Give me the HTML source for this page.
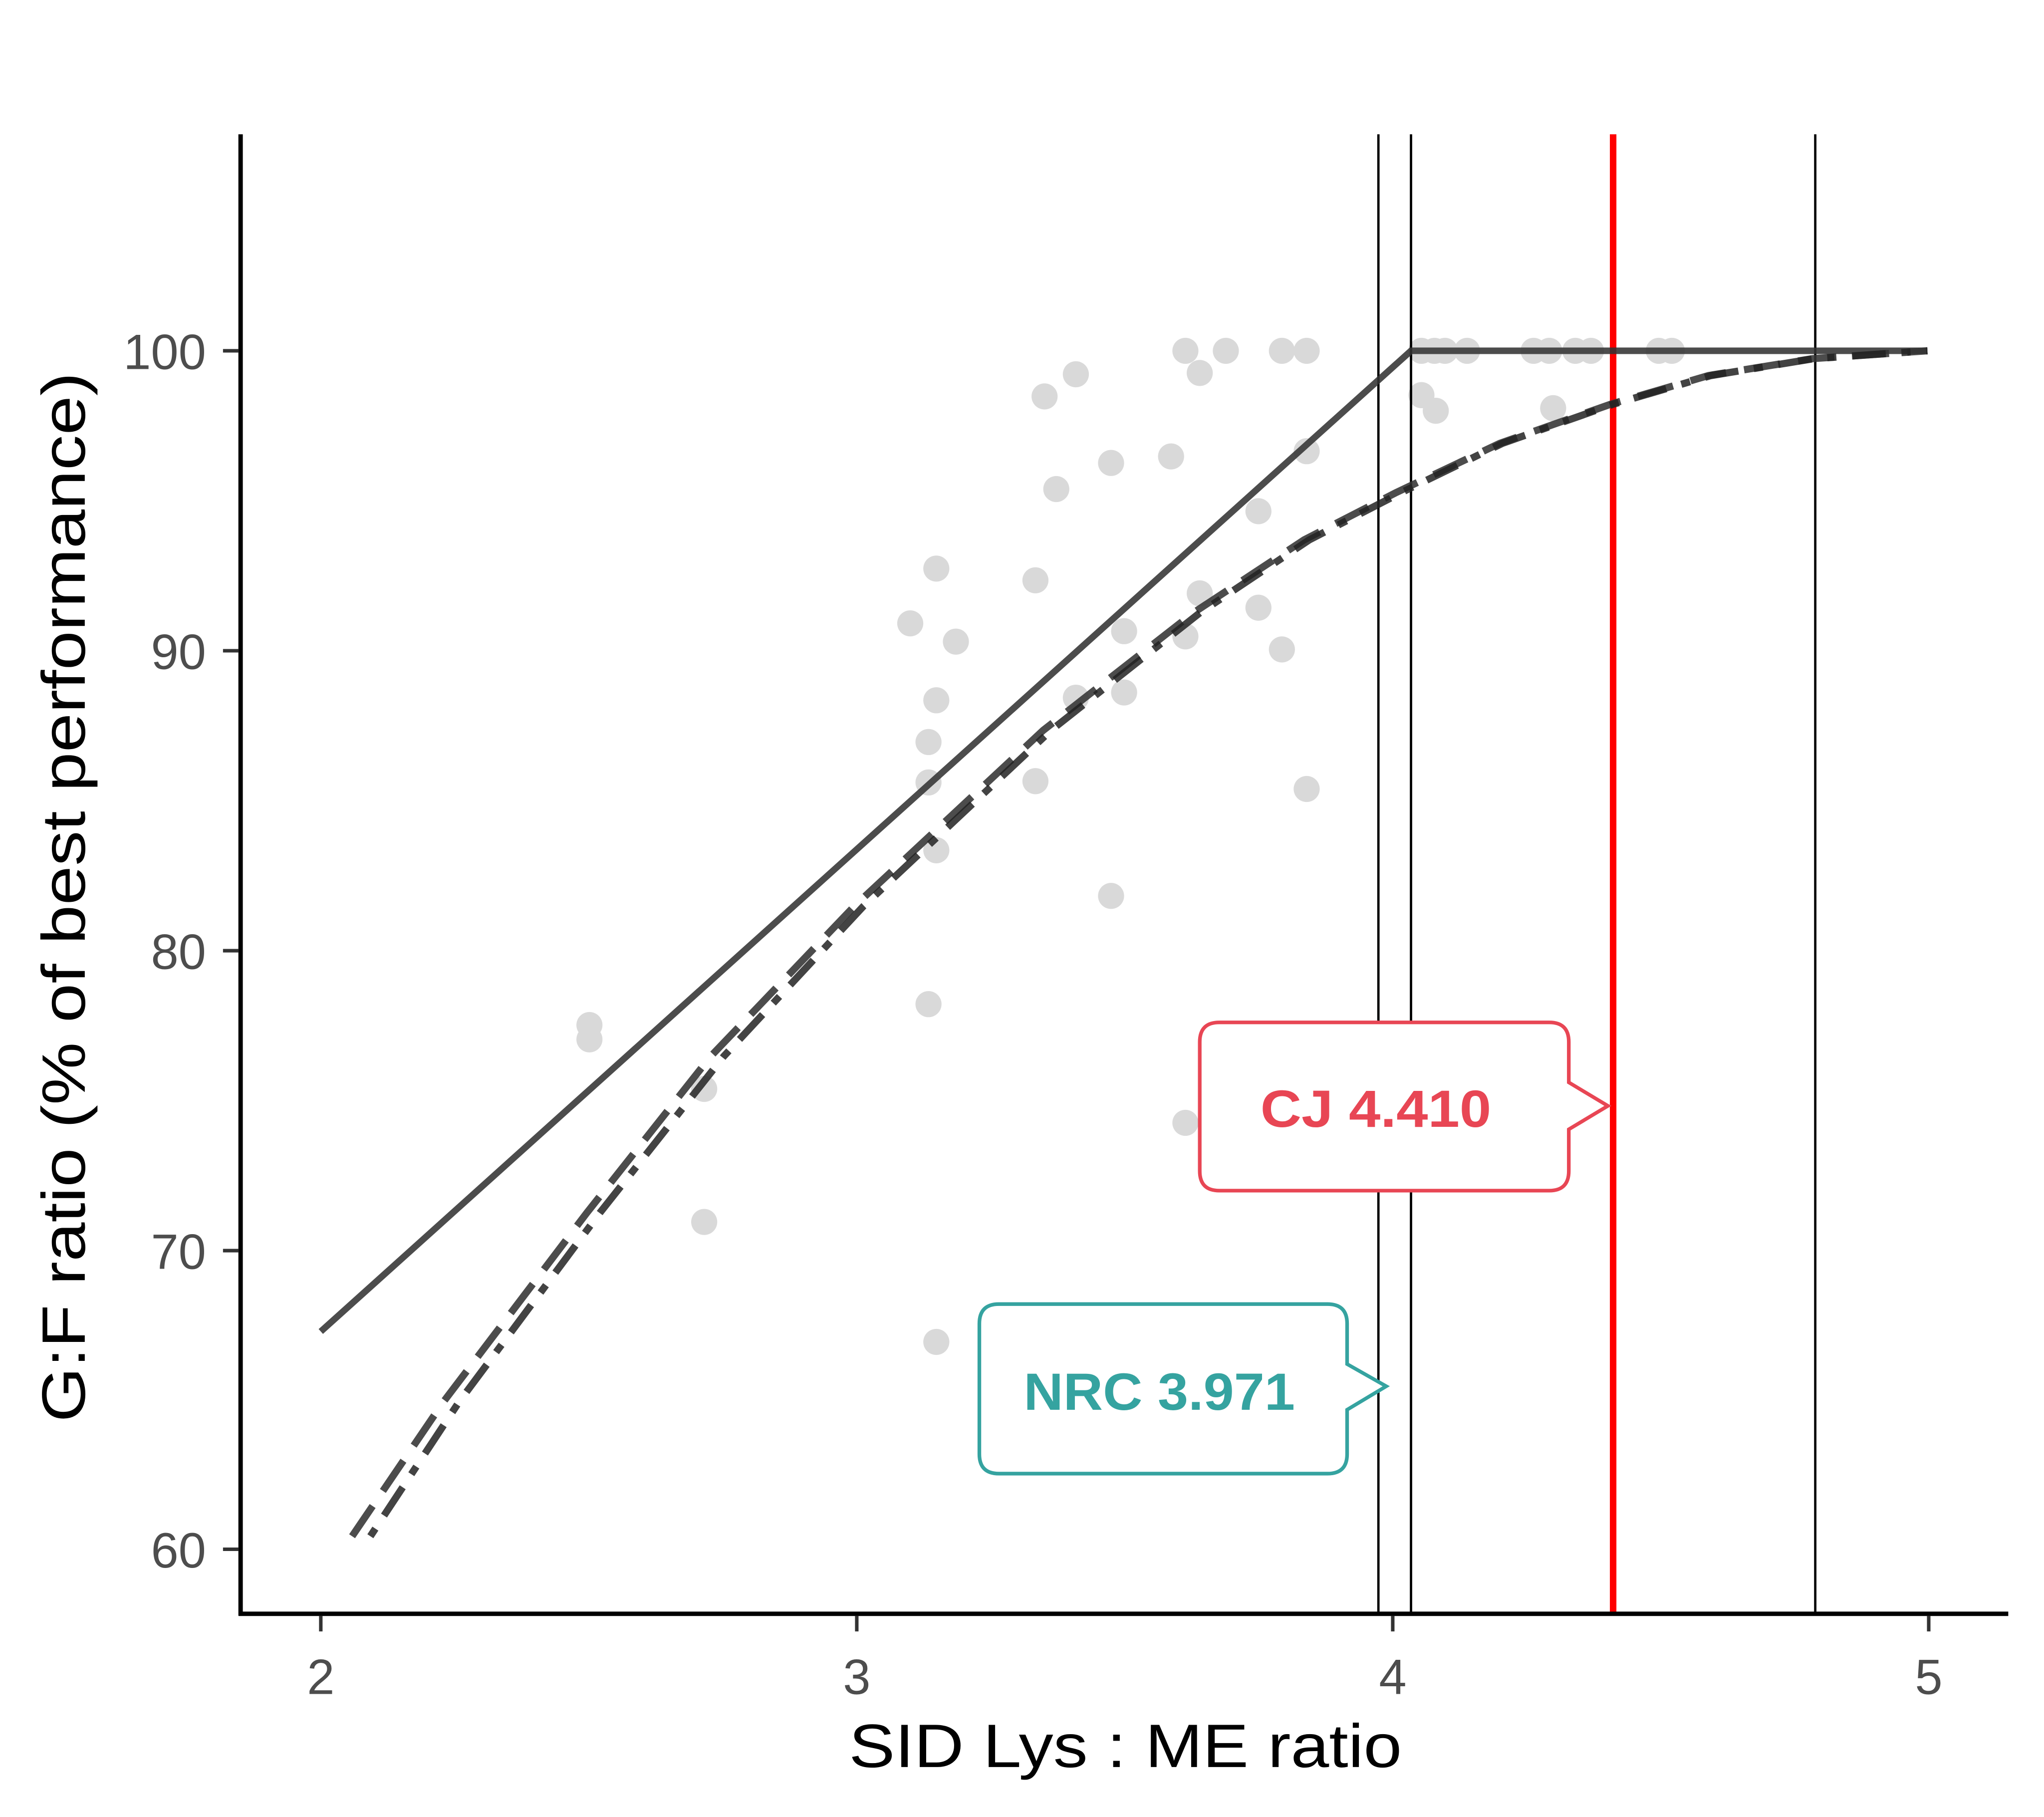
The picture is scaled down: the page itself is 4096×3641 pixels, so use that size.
<!DOCTYPE html>
<html><head><meta charset="utf-8"><style>html,body{margin:0;padding:0;background:#fff}svg{display:block}</style></head>
<body>
<svg width="4096" height="3641" viewBox="0 0 1567.4 1393.3" preserveAspectRatio="none" xmlns="http://www.w3.org/2000/svg" font-family="Liberation Sans, Arial, sans-serif">
<rect width="1567.4" height="1393.3" fill="#fff"/>
<g fill="#d9d9d9">
<circle cx="452" cy="786" r="10"/><circle cx="452" cy="797" r="10"/><circle cx="540" cy="835" r="10"/><circle cx="540" cy="937" r="10"/>
<circle cx="698" cy="478" r="10"/><circle cx="712" cy="569" r="10"/><circle cx="712" cy="600" r="10"/><circle cx="712" cy="770" r="10"/>
<circle cx="718" cy="436" r="10"/><circle cx="718" cy="537" r="10"/><circle cx="718" cy="652" r="10"/><circle cx="718" cy="1029" r="10"/>
<circle cx="733" cy="492" r="10"/><circle cx="794" cy="445" r="10"/><circle cx="794" cy="599" r="10"/><circle cx="801" cy="304" r="10"/>
<circle cx="810" cy="375" r="10"/><circle cx="825" cy="287" r="10"/><circle cx="825" cy="535" r="10"/><circle cx="852" cy="355" r="10"/>
<circle cx="852" cy="687" r="10"/><circle cx="862" cy="484" r="10"/><circle cx="862" cy="531" r="10"/><circle cx="898" cy="350" r="10"/>
<circle cx="909" cy="269" r="10"/><circle cx="909" cy="488" r="10"/><circle cx="909" cy="861" r="10"/><circle cx="920" cy="286" r="10"/>
<circle cx="920" cy="455" r="10"/><circle cx="940" cy="269" r="10"/><circle cx="965" cy="392" r="10"/><circle cx="965" cy="466" r="10"/>
<circle cx="983" cy="269" r="10"/><circle cx="983" cy="498" r="10"/><circle cx="1002" cy="269" r="10"/><circle cx="1002" cy="346" r="10"/>
<circle cx="1002" cy="605" r="10"/><circle cx="1090" cy="269" r="10"/><circle cx="1090" cy="303" r="10"/><circle cx="1101" cy="315" r="10"/>
<circle cx="1100" cy="269" r="10"/><circle cx="1108" cy="269" r="10"/><circle cx="1125" cy="269" r="10"/><circle cx="1176" cy="269" r="10"/>
<circle cx="1188" cy="269" r="10"/><circle cx="1191" cy="313" r="10"/><circle cx="1208" cy="269" r="10"/><circle cx="1220" cy="269" r="10"/>
<circle cx="1272" cy="269" r="10"/><circle cx="1282" cy="269" r="10"/>
</g>
<g stroke="#000" stroke-width="1.8">
<line x1="1057" y1="103" x2="1057" y2="1238"/><line x1="1082" y1="103" x2="1082" y2="1238"/><line x1="1392" y1="103" x2="1392" y2="1238"/>
</g>
<line x1="1237" y1="103" x2="1237" y2="1238" stroke="#ff0000" stroke-width="5"/>
<polyline points="246,1021 1082,269 1478,269" fill="none" stroke="#333" stroke-opacity="0.88" stroke-width="5"/>
<path d="M270,1178 L340,1075 L450,930 L545,810 L655,695 L800,560 L915,470 L1000,414 L1070,378 L1150,340 L1235,310 L1310,288 L1390,275 L1478,269" fill="none" stroke="#333" stroke-opacity="0.88" stroke-width="5.5" stroke-dasharray="28 14"/>
<path d="M284,1178 L352,1075 L460,930 L555,810 L662,695 L806,560 L920,470 L1004,414 L1074,378 L1152,340 L1237,310 L1312,288 L1391,275 L1478,269" fill="none" stroke="#222" stroke-opacity="0.85" stroke-width="5.5" stroke-dasharray="7 12 26 12"/>
<path d="M935,784 H1188 Q1203,784 1203,799 V830 L1233,848 L1203,866 V898 Q1203,913 1188,913 H935 Q920,913 920,898 V799 Q920,784 935,784 Z" fill="#fff" stroke="#e84654" stroke-width="2.8"/>
<text x="1055" y="864" font-size="40" font-weight="bold" fill="#e84654" text-anchor="middle" textLength="177" lengthAdjust="spacingAndGlyphs">CJ 4.410</text>
<path d="M766,1000 H1018 Q1033,1000 1033,1015 V1046 L1063,1063 L1033,1081 V1115 Q1033,1130 1018,1130 H766 Q751,1130 751,1115 V1015 Q751,1000 766,1000 Z" fill="#fff" stroke="#35a3a0" stroke-width="2.8"/>
<text x="889" y="1081" font-size="40" font-weight="bold" fill="#35a3a0" text-anchor="middle" textLength="208" lengthAdjust="spacingAndGlyphs">NRC 3.971</text>
<g stroke="#000" stroke-width="3.4" fill="none">
<line x1="184.5" y1="103" x2="184.5" y2="1239"/><line x1="183" y1="1237.5" x2="1540" y2="1237.5"/>
</g>
<g stroke="#333" stroke-width="2.7">
<line x1="171" y1="269" x2="183" y2="269"/><line x1="171" y1="499" x2="183" y2="499"/><line x1="171" y1="729" x2="183" y2="729"/><line x1="171" y1="959" x2="183" y2="959"/><line x1="171" y1="1188" x2="183" y2="1188"/>
<line x1="246" y1="1239" x2="246" y2="1251"/><line x1="657" y1="1239" x2="657" y2="1251"/><line x1="1068" y1="1239" x2="1068" y2="1251"/><line x1="1479" y1="1239" x2="1479" y2="1251"/>
</g>
<g fill="#4d4d4d" font-size="38" text-anchor="end">
<text x="158" y="283">100</text><text x="158" y="513">90</text><text x="158" y="743">80</text><text x="158" y="973">70</text><text x="158" y="1202">60</text>
</g>
<g fill="#4d4d4d" font-size="38" text-anchor="middle">
<text x="246" y="1299">2</text><text x="657" y="1299">3</text><text x="1068" y="1299">4</text><text x="1479" y="1299">5</text>
</g>
<text x="863" y="1355" font-size="47" text-anchor="middle" fill="#000" textLength="424" lengthAdjust="spacingAndGlyphs">SID Lys : ME ratio</text>
<text transform="translate(65,688) rotate(-90)" font-size="47" text-anchor="middle" fill="#000" textLength="805" lengthAdjust="spacingAndGlyphs">G:F ratio (% of best performance)</text>
</svg>
</body></html>
